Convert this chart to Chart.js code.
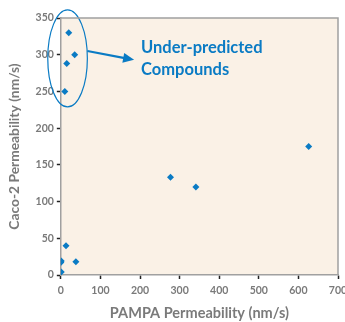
<!DOCTYPE html>
<html>
<head>
<meta charset="utf-8">
<script src="https://cdn.jsdelivr.net/npm/chart.js@4"></script>
<style>
  html, body { margin: 0; padding: 0; background: #fff; }
  #wrap { width: 345px; height: 322px; }
</style>
</head>
<body>
<div id="wrap"><canvas id="chart"></canvas></div>
<script>
//Data
const pampa = [20, 35, 15, 10, 13, 1, 0, 38, 1, 277, 341, 626];
const caco2 = [330, 300, 288, 250, 40, 19, 17, 18, 4, 133, 120, 175];
const xTicks = [0, 100, 200, 300, 400, 500, 600, 700];
const yTicks = [0, 50, 100, 150, 200, 250, 300, 350];

const blue = '#0a7bc4';
const grey = '#7a7a7a';

var points = [];
for (var i = 0; i < pampa.length; i++) {
    points.push({ x: pampa[i], y: caco2[i] });
}

//Fills the plot area and draws top / right border
const areaPlugin = {
    id: 'area',
    beforeDraw(chart) {
        const a = chart.chartArea;
        const ctx = chart.ctx;
        ctx.save();
        ctx.fillStyle = '#faf1e6';
        ctx.fillRect(a.left, a.top, a.right - a.left, a.bottom - a.top);
        ctx.restore();
    },
    afterDraw(chart) {
        const a = chart.chartArea;
        const ctx = chart.ctx;
        ctx.save();
        ctx.strokeStyle = '#a0a0a0';
        ctx.lineWidth = 1.5;
        ctx.beginPath();
        ctx.moveTo(a.left, a.top);
        ctx.lineTo(a.right, a.top);
        ctx.lineTo(a.right, a.bottom);
        ctx.stroke();
        ctx.restore();
    }
};

//Ellipse, arrow and label for the outliers
const notePlugin = {
    id: 'note',
    afterDatasetsDraw(chart) {
        const xs = chart.scales.x;
        const ys = chart.scales.y;
        const ctx = chart.ctx;
        const cx = xs.getPixelForValue(17);
        const cy = ys.getPixelForValue(295);
        const rx = xs.getPixelForValue(67) - cx;
        const ry = cy - ys.getPixelForValue(361);

        ctx.save();
        ctx.strokeStyle = blue;
        ctx.lineWidth = 1.2;
        ctx.beginPath();
        ctx.ellipse(cx, cy, rx, ry, 0, 0, Math.PI * 2);
        ctx.stroke();

        //Arrow
        const x0 = cx + rx, y0 = ys.getPixelForValue(305);
        const x1 = xs.getPixelForValue(185), y1 = ys.getPixelForValue(293);
        ctx.lineWidth = 2.2;
        ctx.beginPath();
        ctx.moveTo(x0, y0);
        ctx.lineTo(x1 - 8, y1 - 1.5);
        ctx.stroke();
        ctx.fillStyle = blue;
        const ang = Math.atan2(y1 - y0, x1 - x0);
        ctx.beginPath();
        ctx.moveTo(x1, y1);
        ctx.lineTo(x1 - 11 * Math.cos(ang) + 5 * Math.sin(ang), y1 - 11 * Math.sin(ang) - 5 * Math.cos(ang));
        ctx.lineTo(x1 - 11 * Math.cos(ang) - 5 * Math.sin(ang), y1 - 11 * Math.sin(ang) + 5 * Math.cos(ang));
        ctx.closePath();
        ctx.fill();

        //Label
        ctx.font = 'bold 16.5px Lato';
        ctx.textBaseline = 'middle';
        ctx.fillText('Under-predicted', x1 + 7, ys.getPixelForValue(309));
        ctx.fillText('Compounds', x1 + 7, ys.getPixelForValue(279));
        ctx.restore();
    }
};

new Chart(document.getElementById('chart'), {
    type: 'scatter',
    data: {
        datasets: [{
            data: points,
            pointStyle: 'rectRot',
            pointRadius: 3.5,
            pointBackgroundColor: blue,
            pointBorderColor: blue,
            pointBorderWidth: 0
        }]
    },
    options: {
        responsive: true,
        maintainAspectRatio: false,
        animation: false,
        events: [],
        layout: { padding: { top: 18, right: 7, left: 6, bottom: 0 } },
        plugins: {
            legend: { display: false },
            tooltip: { enabled: false }
        },
        scales: {
            x: {
                type: 'linear',
                min: 0,
                max: 700,
                afterBuildTicks(axis) { axis.ticks = xTicks.map(v => ({ value: v })); },
                afterFit(axis) { axis.paddingRight = 0; },
                grid: { drawOnChartArea: false, drawTicks: true, tickLength: 4, tickColor: '#222', tickWidth: 1.5 },
                border: { color: '#a0a0a0', width: 1.5 },
                ticks: { color: grey, font: { family: 'Lato', size: 10.5, weight: 'bold' }, padding: 5, maxRotation: 0 },
                title: { display: true, text: 'PAMPA Permeability (nm/s)', color: grey, font: { family: 'Lato', size: 14.5, weight: 'bold' }, padding: { top: 3, bottom: 0 } }
            },
            y: {
                type: 'linear',
                min: 0,
                max: 350,
                afterBuildTicks(axis) { axis.ticks = yTicks.map(v => ({ value: v })); },
                grid: { drawOnChartArea: false, drawTicks: true, tickLength: 4, tickColor: '#222', tickWidth: 1.5 },
                border: { color: '#a0a0a0', width: 1.5 },
                ticks: { color: grey, font: { family: 'Lato', size: 10.5, weight: 'bold' }, padding: 3 },
                title: { display: true, text: 'Caco-2 Permeability (nm/s)', color: grey, font: { family: 'Lato', size: 13.8, weight: 'bold' }, padding: { top: 0, bottom: 10 } }
            }
        }
    },
    plugins: [areaPlugin, notePlugin]
});
</script>
</body>
</html>
